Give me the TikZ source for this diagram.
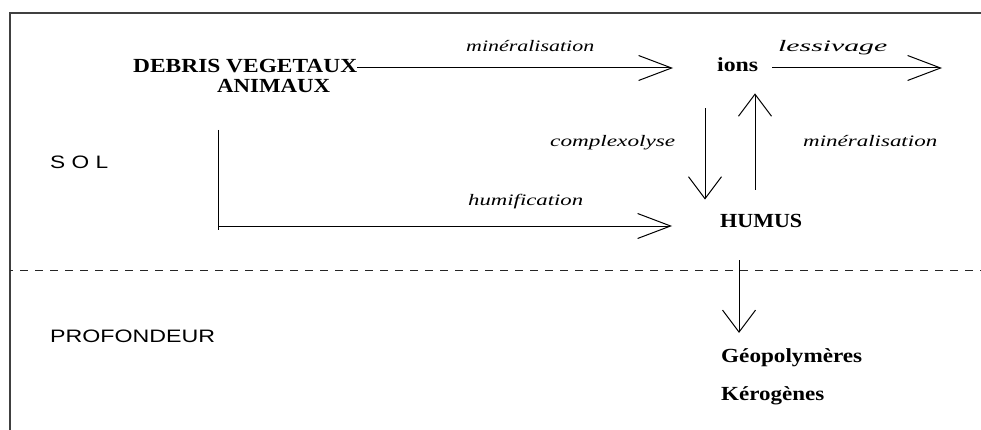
\documentclass[tikz,border=0pt]{standalone}
\usepackage{fontspec}
\usepackage{graphicx}
\setmainfont{Liberation Serif}
\setsansfont{Liberation Sans}
\usetikzlibrary{arrows.meta}
\newcommand{\fw}[2]{\resizebox{#1pt}{\height}{#2}}
\begin{document}
\begin{tikzpicture}[x=1pt,y=-1pt,
  bl/.style={inner sep=0pt, anchor=base west, font=\fontsize{20}{24}\selectfont\bfseries},
  itl/.style={inner sep=0pt, anchor=base west, font=\fontsize{16}{19}\selectfont\itshape},
  sfl/.style={inner sep=0pt, anchor=base west, font=\fontsize{18}{22}\selectfont\sffamily},
  conn/.style={line width=1pt, black},
  harr/.style={conn, -{Straight Barb[length=33pt,width=25pt]}},
  varr/.style={conn, -{Straight Barb[length=22pt,width=33pt]}},
  frame/.style={line width=1.5pt, black!75}]
\useasboundingbox (0,0) rectangle (981,430);

% frame
\coordinate (fb) at (10,430);
\coordinate (fc) at (10,13);
\coordinate (fr) at (981,13);
\draw[frame] (fb) -- (fc) -- (fr);

% dashed separator
\coordinate (dl) at (10,270);
\coordinate (dr) at (981,270);
\draw[line width=1pt, black!85, dash pattern=on 8pt off 7pt, dash phase=5pt] (dl) -- (dr);

% nodes
\node[bl] (debris) at (133,73) {\fw{224}{DEBRIS VEGETAUX}};
\node[bl] (animaux) at (217,93) {\fw{113}{ANIMAUX}};
\node[bl] (ions) at (717,72) {\fw{41}{ions}};
\node[bl] (humus) at (720,227) {\fw{82}{HUMUS}};
\node[bl] (geo) at (721,362) {\fw{141}{Géopolymères}};
\node[bl] (kero) at (721,400) {\fw{103}{Kérogènes}};

\node[itl] (lmin1) at (466,52) {\fw{128}{minéralisation}};
\node[itl] (lless) at (778,52) {\fw{109}{lessivage}};
\node[itl] (lcomp) at (550,147) {\fw{125}{complexolyse}};
\node[itl] (lmin2) at (803,147) {\fw{134}{minéralisation}};
\node[itl] (lhum) at (468,206) {\fw{115}{humification}};

\node[sfl] (sol) at (50,169) {\fw{58}{S O L}};
\node[sfl] (prof) at (50,342) {\fw{165}{PROFONDEUR}};

% connectors
\coordinate (lend) at (942,68);
\draw[harr, shorten >=44pt] (debris.east |- lend) -- (ions.west |- lend);
\draw[harr, shorten <=14pt] (ions.east |- lend) -- (lend);

\coordinate (cx) at (705,0);
\draw[varr, shorten <=36pt, shorten >=14pt] (cx |- ions.south) -- (cx |- humus.north);
\coordinate (mx) at (755,0);
\draw[varr, shorten <=24pt, shorten >=21pt] (mx |- humus.north) -- (mx |- ions.south);

\coordinate (hs) at (218,130);
\coordinate (hb) at (218,230);
\coordinate (hc) at (218,226);
\draw[conn] (hs) -- (hb);
\draw[harr, shorten >=48pt] (hc) -- (hc -| humus.west);

\coordinate (gx) at (739,0);
\draw[varr, shorten <=33pt, shorten >=15pt] (gx |- humus.south) -- (gx |- geo.north);
\end{tikzpicture}
\end{document}
